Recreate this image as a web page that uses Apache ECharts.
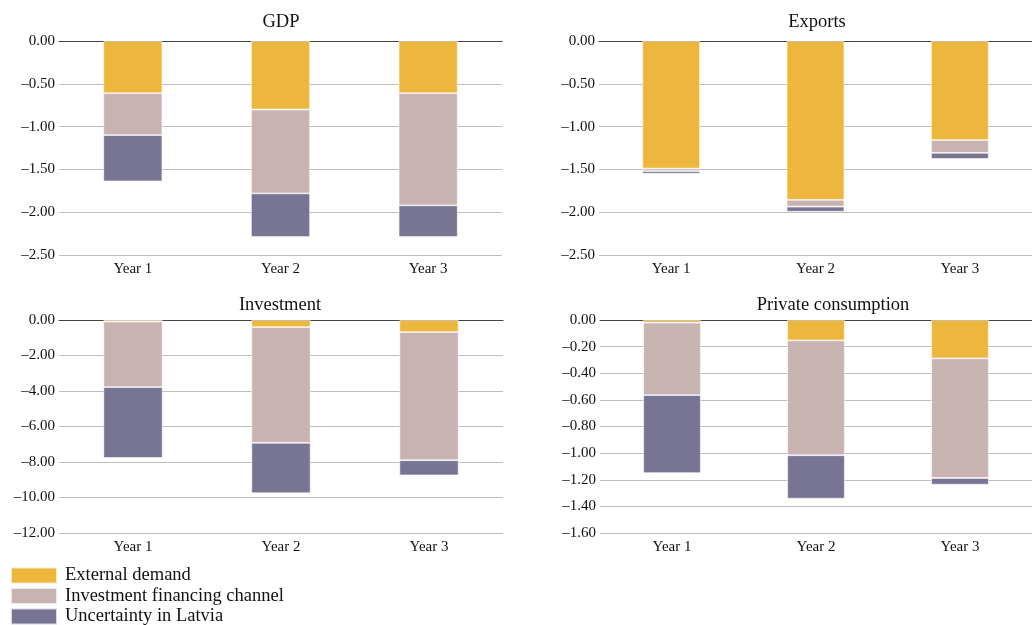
<!DOCTYPE html>
<html>
<head>
<meta charset="utf-8">
<script src="https://cdn.jsdelivr.net/npm/echarts@6/dist/echarts.min.js"></script>
<style>
  html, body { margin: 0; padding: 0; background: #fff; }
  #main { width: 1032px; height: 625px; }
</style>
</head>
<body>
<div id="main"></div>
<script>
var years = ['Year 1', 'Year 2', 'Year 3'];
var seriesNames = ['External demand', 'Investment financing channel', 'Uncertainty in Latvia'];

// GDP
var gdpExternal = [-0.61, -0.80, -0.61];
var gdpFinancing = [-0.49, -0.98, -1.31];
var gdpUncertainty = [-0.54, -0.51, -0.37];
// Exports
var expExternal = [-1.49, -1.855, -1.157];
var expFinancing = [-0.03, -0.08, -0.15];
var expUncertainty = [-0.03, -0.06, -0.07];
// Investment
var invExternal = [-0.09, -0.40, -0.68];
var invFinancing = [-3.69, -6.52, -7.22];
var invUncertainty = [-3.99, -2.84, -0.85];
// Private consumption
var pcExternal = [-0.02, -0.153, -0.288];
var pcFinancing = [-0.544, -0.863, -0.899];
var pcUncertainty = [-0.586, -0.326, -0.05];

var colors = ['#ECB73C', '#C9B2B2', '#777593'];
var fontFam = '"Liberation Serif", "DejaVu Serif", serif';

var panels = [
    { title: 'GDP', data: [gdpExternal, gdpFinancing, gdpUncertainty], min: -2.5, interval: 0.5,
      grid: { left: 59, top: 41, width: 443, height: 214 }, titleX: 281, titleY: 13 },
    { title: 'Exports', data: [expExternal, expFinancing, expUncertainty], min: -2.5, interval: 0.5,
      grid: { left: 599, top: 41, width: 433, height: 214 }, titleX: 817, titleY: 13 },
    { title: 'Investment', data: [invExternal, invFinancing, invUncertainty], min: -12, interval: 2,
      grid: { left: 59, top: 320, width: 444, height: 213 }, titleX: 280, titleY: 296 },
    { title: 'Private consumption', data: [pcExternal, pcFinancing, pcUncertainty], min: -1.6, interval: 0.2,
      grid: { left: 600, top: 320, width: 432, height: 213 }, titleX: 833, titleY: 296 }
];

var grids = [], xAxes = [], yAxes = [], series = [], titles = [], legends = [];

panels.forEach(function (p, i) {
    grids.push(p.grid);
    titles.push({
        text: p.title,
        left: p.titleX,
        top: p.titleY,
        textAlign: 'center',
        padding: 0,
        textStyle: { fontFamily: fontFam, fontSize: 18.5, fontWeight: 'normal', color: '#111' }
    });
    // top axis: dark zero line
    xAxes.push({
        type: 'category', gridIndex: i, data: years, position: 'top',
        axisLine: { show: true, onZero: false, lineStyle: { color: '#444', width: 1.2 } },
        axisTick: { show: false }, axisLabel: { show: false }
    });
    // bottom axis: labels
    xAxes.push({
        type: 'category', gridIndex: i, data: years, position: 'bottom',
        axisLine: { show: false }, axisTick: { show: false },
        axisLabel: { fontFamily: fontFam, fontSize: 15, color: '#111', margin: 7 }
    });
    yAxes.push({
        type: 'value', gridIndex: i, min: p.min, max: 0, interval: p.interval,
        axisLine: { show: false }, axisTick: { show: false },
        splitLine: { lineStyle: { color: '#bdbdbd', width: 1.2 } },
        axisLabel: {
            fontFamily: fontFam, fontSize: 15, color: '#111', margin: 4,
            formatter: function (v) { return v.toFixed(2).replace('-', '\u2013'); }
        }
    });
    p.data.forEach(function (vals, k) {
        series.push({
            name: seriesNames[k],
            type: 'bar',
            stack: 'p' + i,
            xAxisIndex: i * 2,
            yAxisIndex: i,
            barWidth: '40%',
            data: vals,
            itemStyle: { color: colors[k], borderColor: 'rgba(255,255,255,0.7)', borderWidth: 0.8 }
        });
    });
});

// one legend per entry so they stack without wrapping
var legendTops = [566, 586.5, 607];
seriesNames.forEach(function (n, k) {
    legends.push({
        data: [n],
        left: 10,
        top: legendTops[k],
        padding: 0,
        itemWidth: 46,
        itemHeight: 16,
        icon: 'rect',
        textStyle: { fontFamily: fontFam, fontSize: 18.5, color: '#111', padding: [0, 0, 0, 3] }
    });
});

titles.push({
    text: '(percentage deviation from baseline; %)',
    left: 4, top: -14, padding: 0,
    textStyle: { fontFamily: fontFam, fontSize: 15, fontWeight: 'normal', color: '#111' }
});

var chart = echarts.init(document.getElementById('main'));
var option = {
    animation: false,
    backgroundColor: '#fff',
    title: titles,
    grid: grids,
    xAxis: xAxes,
    yAxis: yAxes,
    legend: legends,
    series: series
};
chart.setOption(option);
</script>
</body>
</html>
